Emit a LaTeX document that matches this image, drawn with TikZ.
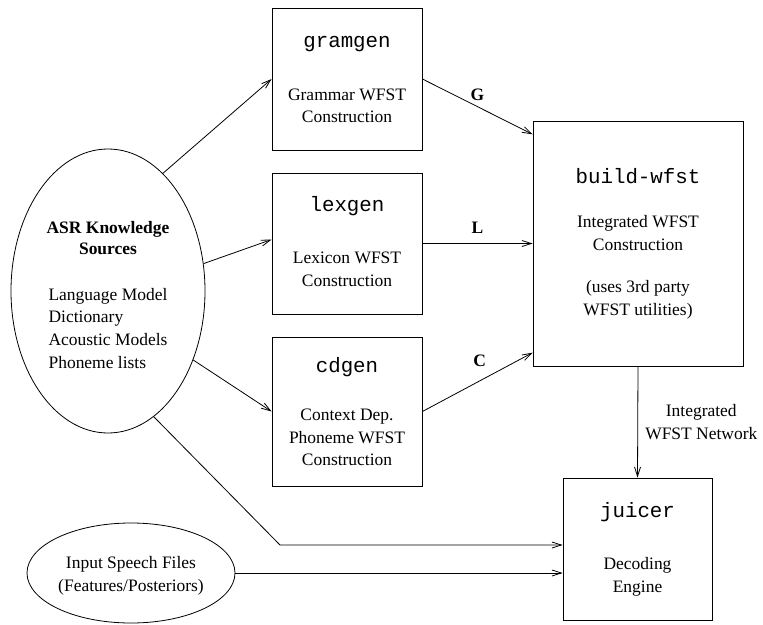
\documentclass[tikz,border=0pt]{standalone}
\usepackage{fontspec}
\setmainfont{Liberation Serif}
\setmonofont{Liberation Mono}
\usetikzlibrary{shapes.geometric,arrows.meta}

\newcommand{\prog}[1]{{\fontsize{15.6}{17}\selectfont\ttfamily #1}}
\newcommand{\padtop}[1][16pt]{\rule{0pt}{#1}}

\begin{document}
\begin{tikzpicture}[x=0.75pt,y=-0.75pt,
    font=\fontsize{13.1}{16.9}\selectfont,
    line width=0.6pt,
    tip/.style={-{Straight Barb[length=7pt,width=4.5pt,line width=0.6pt]}}]

        \useasboundingbox (0,0) rectangle (763,624);

        \begin{scope}[every node/.style={rectangle,draw,align=center,minimum width=112.5pt}]
          \node (gram)   at (347,79)    [minimum height=106.5pt]  {\padtop[9.5pt]\prog{gramgen}\\[22.5pt]Grammar WFST\\Construction};
          \node (lex)    at (347,243.5) [minimum height=105.75pt] {\prog{lexgen}\\[22pt]Lexicon WFST\\Construction\rule[-3pt]{0pt}{0pt}};
          \node (cd)     at (347,411.5) [minimum height=111.75pt] {\prog{cdgen}\\[19.5pt]Context Dep.\\Phoneme WFST\\Construction};
          \node (build)  at (638,243.5) [minimum width=157.5pt,minimum height=183.75pt] {\prog{build-wfst}\\[16.5pt]Integrated WFST\\Construction\\[15pt](uses 3rd party\\WFST utilities)};
          \node (juicer) at (637.5,549) [minimum width=111.75pt,minimum height=106.5pt] {\prog{juicer}\\[22.5pt]Decoding\\Engine};
        \end{scope}

        \begin{scope}[every node/.style={ellipse,draw,align=center,inner sep=0pt}]
          \node (asr)    at (108,291) [minimum width=145.5pt,minimum height=213pt]
            {\padtop[20pt]\textbf{ASR Knowledge}\\[-1.5pt]\textbf{Sources}\\[21.5pt]%
             \begin{tabular}{@{}l@{}}Language Model\\Dictionary\\Acoustic Models\\Phoneme lists\end{tabular}};
          \node (speech) at (131,573) [minimum width=156pt,minimum height=75pt]
            {\padtop[13.5pt]Input Speech Files\\(Features/Posteriors)};
        \end{scope}

        \coordinate (bend) at (280,545);

        \begin{scope}[every node/.style={font=\fontsize{13.1}{16.9}\selectfont\bfseries}]

          \begin{scope}[every edge/.style={draw,tip}]
            \path (asr.65.6)   edge (gram.west);
            \path (asr.16.6)   edge (lex.177);
            \path (asr.-39)    edge (cd.west);
            \path (speech.east) edge (speech.east -| juicer.west);
            \path (gram.east)  edge node[above=1pt] {G} (build.134);
            \path (lex.east)   edge node[above=4pt] {L} (build.west);
            \path (cd.east)    edge node[above=7pt,pos=0.52] {C} (build.226);
            \path (build.south) edge node[right=2pt,align=center,font=\fontsize{13.1}{16.9}\selectfont] {Integrated\\WFST Network} (juicer.north);
          \end{scope}
        \end{scope}

        \draw[tip] (asr.-70.8) -- (bend) -- (bend -| juicer.west);

      \end{tikzpicture}
\end{document}
